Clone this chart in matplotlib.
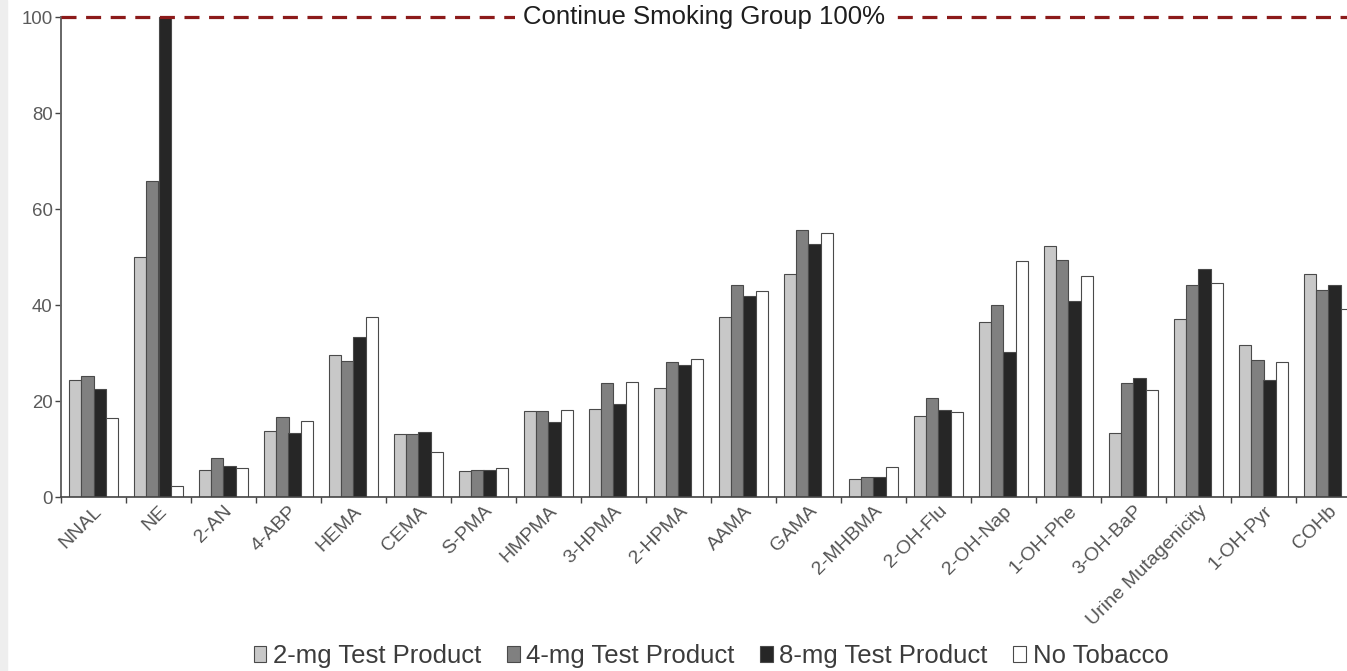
import matplotlib
matplotlib.use("Agg")
import matplotlib.pyplot as plt
from matplotlib.patches import Rectangle
import numpy as np

plt.rcParams["font.family"] = ["Liberation Sans", "DejaVu Sans"]

# Biomarker levels as percent of the continue-smoking group
biomarkers = ["NNAL", "NE", "2-AN", "4-ABP", "HEMA", "CEMA", "S-PMA", "HMPMA",
              "3-HPMA", "2-HPMA", "AAMA", "GAMA", "2-MHBMA", "2-OH-Flu",
              "2-OH-Nap", "1-OH-Phe", "3-OH-BaP", "Urine Mutagenicity",
              "1-OH-Pyr", "COHb"]
mg2 = [24.4, 50.1, 5.7, 13.8, 29.6, 13.2, 5.4, 18.0, 18.3, 22.7,
       37.4, 46.4, 3.8, 16.9, 36.5, 52.3, 13.3, 37.1, 31.7, 46.5]
mg4 = [25.3, 65.8, 8.1, 16.7, 28.4, 13.2, 5.6, 18.0, 23.8, 28.1,
       44.2, 55.6, 4.2, 20.6, 40.0, 49.3, 23.8, 44.2, 28.5, 43.2]
mg8 = [22.4, 100.0, 6.5, 13.4, 33.3, 13.6, 5.6, 15.7, 19.3, 27.5,
       41.8, 52.8, 4.2, 18.1, 30.3, 40.8, 24.7, 47.5, 24.3, 44.2]
no_tobacco = [16.5, 2.3, 6.1, 15.8, 37.6, 9.3, 6.0, 18.1, 24.0, 28.8,
              43.0, 55.0, 6.3, 17.7, 49.1, 46.0, 22.3, 44.6, 28.1, 39.2]
series_names = ["2-mg Test Product", "4-mg Test Product",
                "8-mg Test Product", "No Tobacco"]
reference_level = 100

W, H = 1347, 671
fig = plt.figure(figsize=(W / 100, H / 100), dpi=100)
fig.patches.append(Rectangle((0, 0), 7 / W, 1, transform=fig.transFigure,
                             color="#eeeeee", zorder=-10))

# axes runs a little past the right edge of the canvas
ax = fig.add_axes([61 / W, 174 / H, 1300 / W, 480 / H])

x = np.arange(len(biomarkers))
width = 0.19
colors = ["#c8c8c8", "#808080", "#262626", "#ffffff"]
for i, (vals, name, col) in enumerate(zip([mg2, mg4, mg8, no_tobacco],
                                          series_names, colors)):
    ax.bar(x + (i - 1.5) * width, vals, width, color=col,
           edgecolor="#4a4a4a", linewidth=0.8, label=name, zorder=2)

# continue smoking reference line
ax.axhline(reference_level, color="#8c1a1a", lw=2.3, dashes=(4.7, 3.0),
           clip_on=False, zorder=3)
ax.text(9.39, reference_level, "Continue Smoking Group 100%", fontsize=18.5,
        color="#1e1e1e", ha="center", va="center", zorder=4,
        bbox=dict(facecolor="white", edgecolor="none", pad=6))

ax.set_xlim(-0.5, len(biomarkers) - 0.5)
ax.set_ylim(0, 100)
ax.set_yticks(range(0, 101, 20))
ax.tick_params(axis="y", labelsize=13.4, labelcolor="#5a5a5a", length=4,
               width=1, color="#444444", pad=2)

ax.set_xticks(x)
ax.set_xticklabels(biomarkers, rotation=45, ha="right", va="top",
                   rotation_mode="anchor", fontsize=14, color="#555555")
ax.set_xticks(np.arange(-0.5, len(biomarkers)), minor=True)
ax.tick_params(axis="x", which="major", length=0, pad=4)
ax.tick_params(axis="x", which="minor", length=4, width=1, color="#444444")

for side in ["top", "right"]:
    ax.spines[side].set_visible(False)
ax.spines["left"].set_color("#666666")
ax.spines["left"].set_linewidth(1.4)
ax.spines["bottom"].set_color("#444444")
ax.spines["bottom"].set_linewidth(1.2)

handles, labels = ax.get_legend_handles_labels()
leg = fig.legend(handles, labels, loc="center", ncol=4, frameon=False,
                 bbox_to_anchor=(711 / W, 1 - 656 / H), fontsize=18.5,
                 handlelength=0.5, handleheight=0.55, handletextpad=0.25,
                 columnspacing=1.0)
for t in leg.get_texts():
    t.set_color("#3c3c3c")

fig.savefig("out.png", dpi=100)
